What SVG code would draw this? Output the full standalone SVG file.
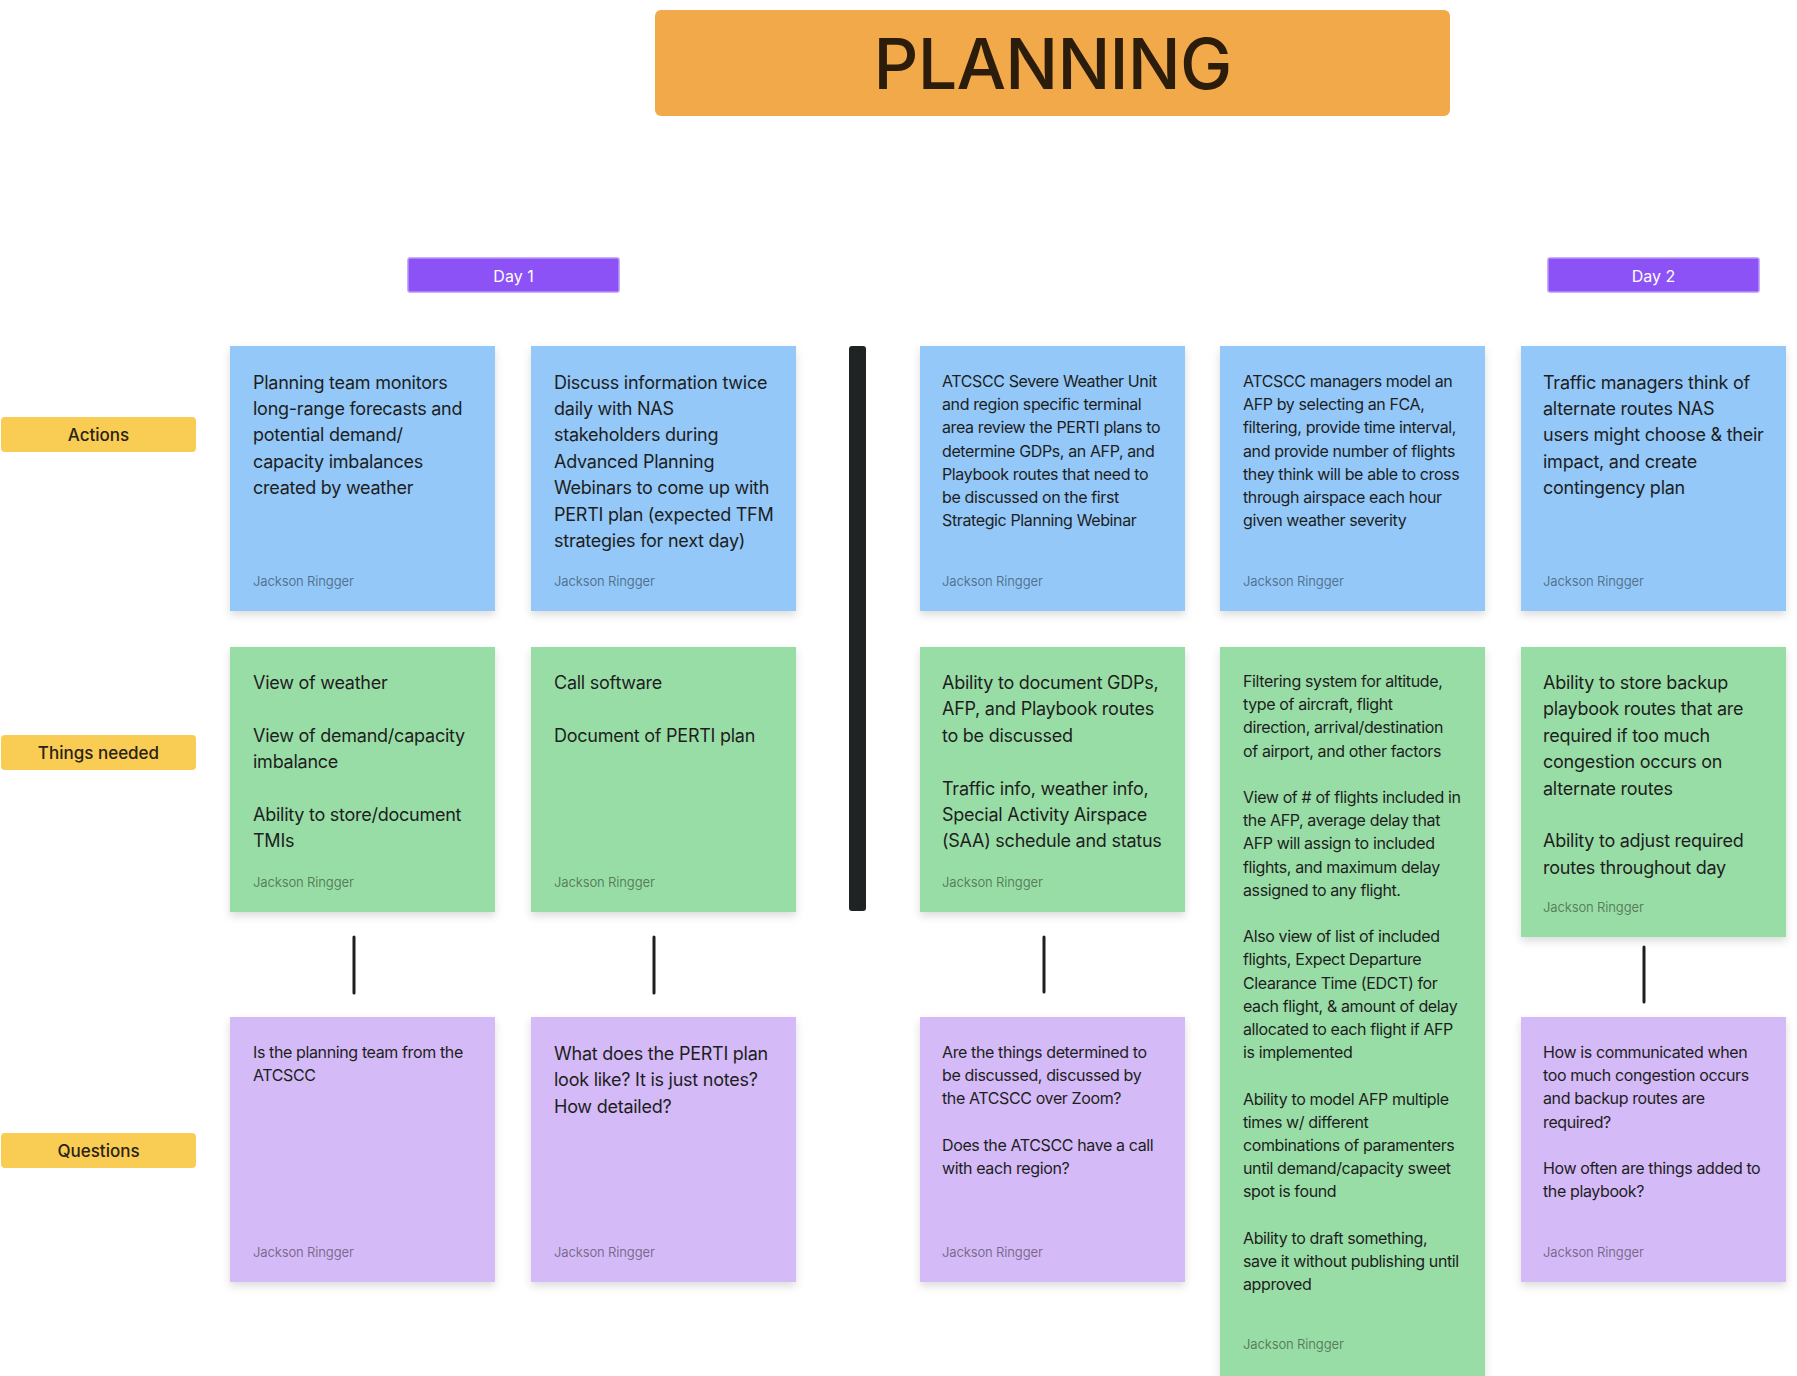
<svg xmlns="http://www.w3.org/2000/svg" width="1797" height="1376" viewBox="0 0 1797 1376">
<defs>
<filter id="sh" x="-10%" y="-10%" width="120%" height="125%">
<feDropShadow dx="0" dy="4" stdDeviation="4" flood-color="#000" flood-opacity="0.14"/>
</filter>
</defs>
<style>
text{font-family:Inter,"Noto Sans","Liberation Sans",sans-serif;}
.blue{fill:#93C8F8;}
.green{fill:#99DDA6;}
.purple{fill:#D4BAF6;}
.t18{font-size:18px;fill:#1E1E1E;letter-spacing:-0.25px;}
.t16{font-size:16px;fill:#1E1E1E;letter-spacing:-0.38px;}
.auth{font-size:13px;fill:#000;fill-opacity:0.45;letter-spacing:-0.15px;}
.lab{fill:#F9CC54;}
.labt{font-size:17px;font-weight:500;fill:#2A2216;text-anchor:middle;}
.day{fill:#8D52F5;stroke:#B894F8;stroke-width:1.5;}
.dayt{font-size:16px;fill:#fff;text-anchor:middle;}
.conn{stroke:#1E1E1E;stroke-width:3;stroke-linecap:round;fill:none;}
</style>
<rect width="1797" height="1376" fill="#fff"/>

<g id="title">
<rect x="655" y="10" width="795" height="106" rx="6" fill="#F2A94A"/>
<text x="1052.5" y="89" font-size="70" font-weight="500" fill="#2B1C0B" text-anchor="middle" letter-spacing="-0.8">PLANNING</text>
</g>

<g id="day1"><rect class="day" x="408" y="258" width="211" height="34" rx="2"/><text class="dayt" x="513.5" y="282">Day 1</text></g>
<g id="day2"><rect class="day" x="1548" y="258" width="211" height="34" rx="2"/><text class="dayt" x="1653.5" y="282">Day 2</text></g>

<g id="label-actions"><rect class="lab" x="1" y="417" width="195" height="35" rx="4"/><text class="labt" x="98.5" y="440.5">Actions</text></g>
<g id="label-things"><rect class="lab" x="1" y="735" width="195" height="35" rx="4"/><text class="labt" x="98.5" y="758.5">Things needed</text></g>
<g id="label-questions"><rect class="lab" x="1" y="1133" width="195" height="35" rx="4"/><text class="labt" x="98.5" y="1156.5">Questions</text></g>

<g id="divider"><rect x="849" y="346" width="17" height="565" rx="3" fill="#1F2323"/></g>

<g id="connectors">
<line class="conn" x1="354" y1="937" x2="354" y2="993"/>
<line class="conn" x1="654" y1="937" x2="654" y2="993"/>
<line class="conn" x1="1044" y1="937" x2="1044" y2="992"/>
<line class="conn" x1="1644" y1="947" x2="1644" y2="1002"/>
</g>

<!-- Row 1: Actions -->
<g id="a1">
<rect class="blue" x="230" y="346" width="265" height="265" filter="url(#sh)"/>
<text class="t18"><tspan x="253" y="388.5">Planning team monitors</tspan><tspan x="253" dy="26.4">long-range forecasts and</tspan><tspan x="253" dy="26.4">potential demand/</tspan><tspan x="253" dy="26.4">capacity imbalances</tspan><tspan x="253" dy="26.4">created by weather</tspan></text>
<text class="auth" x="253" y="586">Jackson Ringger</text>
</g>
<g id="a2">
<rect class="blue" x="531" y="346" width="265" height="265" filter="url(#sh)"/>
<text class="t18"><tspan x="554" y="388.5">Discuss information twice</tspan><tspan x="554" dy="26.4">daily with NAS</tspan><tspan x="554" dy="26.4">stakeholders during</tspan><tspan x="554" dy="26.4">Advanced Planning</tspan><tspan x="554" dy="26.4">Webinars to come up with</tspan><tspan x="554" dy="26.4">PERTI plan (expected TFM</tspan><tspan x="554" dy="26.4">strategies for next day)</tspan></text>
<text class="auth" x="554" y="586">Jackson Ringger</text>
</g>
<g id="a3">
<rect class="blue" x="920" y="346" width="265" height="265" filter="url(#sh)"/>
<text class="t16"><tspan x="942" y="387">ATCSCC Severe Weather Unit</tspan><tspan x="942" dy="23.2">and region specific terminal</tspan><tspan x="942" dy="23.2">area review the PERTI plans to</tspan><tspan x="942" dy="23.2">determine GDPs, an AFP, and</tspan><tspan x="942" dy="23.2">Playbook routes that need to</tspan><tspan x="942" dy="23.2">be discussed on the first</tspan><tspan x="942" dy="23.2">Strategic Planning Webinar</tspan></text>
<text class="auth" x="942" y="586">Jackson Ringger</text>
</g>
<g id="a4">
<rect class="blue" x="1220" y="346" width="265" height="265" filter="url(#sh)"/>
<text class="t16"><tspan x="1243" y="387">ATCSCC managers model an</tspan><tspan x="1243" dy="23.2">AFP by selecting an FCA,</tspan><tspan x="1243" dy="23.2">filtering, provide time interval,</tspan><tspan x="1243" dy="23.2">and provide number of flights</tspan><tspan x="1243" dy="23.2">they think will be able to cross</tspan><tspan x="1243" dy="23.2">through airspace each hour</tspan><tspan x="1243" dy="23.2">given weather severity</tspan></text>
<text class="auth" x="1243" y="586">Jackson Ringger</text>
</g>
<g id="a5">
<rect class="blue" x="1521" y="346" width="265" height="265" filter="url(#sh)"/>
<text class="t18"><tspan x="1543" y="388.5">Traffic managers think of</tspan><tspan x="1543" dy="26.4">alternate routes NAS</tspan><tspan x="1543" dy="26.4">users might choose &amp; their</tspan><tspan x="1543" dy="26.4">impact, and create</tspan><tspan x="1543" dy="26.4">contingency plan</tspan></text>
<text class="auth" x="1543" y="586">Jackson Ringger</text>
</g>

<!-- Row 2: Things needed -->
<g id="n1">
<rect class="green" x="230" y="647" width="265" height="265" filter="url(#sh)"/>
<text class="t18"><tspan x="253" y="689">View of weather</tspan><tspan x="253" dy="52.8">View of demand/capacity</tspan><tspan x="253" dy="26.4">imbalance</tspan><tspan x="253" dy="52.8">Ability to store/document</tspan><tspan x="253" dy="26.4">TMIs</tspan></text>
<text class="auth" x="253" y="887">Jackson Ringger</text>
</g>
<g id="n2">
<rect class="green" x="531" y="647" width="265" height="265" filter="url(#sh)"/>
<text class="t18"><tspan x="554" y="689">Call software</tspan><tspan x="554" dy="52.8">Document of PERTI plan</tspan></text>
<text class="auth" x="554" y="887">Jackson Ringger</text>
</g>
<g id="n3">
<rect class="green" x="920" y="647" width="265" height="265" filter="url(#sh)"/>
<text class="t18"><tspan x="942" y="689">Ability to document GDPs,</tspan><tspan x="942" dy="26.4">AFP, and Playbook routes</tspan><tspan x="942" dy="26.4">to be discussed</tspan><tspan x="942" dy="52.8">Traffic info, weather info,</tspan><tspan x="942" dy="26.4">Special Activity Airspace</tspan><tspan x="942" dy="26.4">(SAA) schedule and status</tspan></text>
<text class="auth" x="942" y="887">Jackson Ringger</text>
</g>
<g id="n4">
<rect class="green" x="1220" y="647" width="265" height="729" filter="url(#sh)"/>
<text class="t16"><tspan x="1243" y="687">Filtering system for altitude,</tspan><tspan x="1243" dy="23.2">type of aircraft, flight</tspan><tspan x="1243" dy="23.2">direction, arrival/destination</tspan><tspan x="1243" dy="23.2">of airport, and other factors</tspan><tspan x="1243" dy="46.4">View of # of flights included in</tspan><tspan x="1243" dy="23.2">the AFP, average delay that</tspan><tspan x="1243" dy="23.2">AFP will assign to included</tspan><tspan x="1243" dy="23.2">flights, and maximum delay</tspan><tspan x="1243" dy="23.2">assigned to any flight.</tspan><tspan x="1243" dy="46.4">Also view of list of included</tspan><tspan x="1243" dy="23.2">flights, Expect Departure</tspan><tspan x="1243" dy="23.2">Clearance Time (EDCT) for</tspan><tspan x="1243" dy="23.2">each flight, &amp; amount of delay</tspan><tspan x="1243" dy="23.2">allocated to each flight if AFP</tspan><tspan x="1243" dy="23.2">is implemented</tspan><tspan x="1243" dy="46.4">Ability to model AFP multiple</tspan><tspan x="1243" dy="23.2">times w/ different</tspan><tspan x="1243" dy="23.2">combinations of paramenters</tspan><tspan x="1243" dy="23.2">until demand/capacity sweet</tspan><tspan x="1243" dy="23.2">spot is found</tspan><tspan x="1243" dy="46.4">Ability to draft something,</tspan><tspan x="1243" dy="23.2">save it without publishing until</tspan><tspan x="1243" dy="23.2">approved</tspan></text>
<text class="auth" x="1243" y="1349">Jackson Ringger</text>
</g>
<g id="n5">
<rect class="green" x="1521" y="647" width="265" height="290" filter="url(#sh)"/>
<text class="t18"><tspan x="1543" y="689">Ability to store backup</tspan><tspan x="1543" dy="26.4">playbook routes that are</tspan><tspan x="1543" dy="26.4">required if too much</tspan><tspan x="1543" dy="26.4">congestion occurs on</tspan><tspan x="1543" dy="26.4">alternate routes</tspan><tspan x="1543" dy="52.8">Ability to adjust required</tspan><tspan x="1543" dy="26.4">routes throughout day</tspan></text>
<text class="auth" x="1543" y="912">Jackson Ringger</text>
</g>

<!-- Row 3: Questions -->
<g id="q1">
<rect class="purple" x="230" y="1017" width="265" height="265" filter="url(#sh)"/>
<text class="t16"><tspan x="253" y="1058">Is the planning team from the</tspan><tspan x="253" dy="23.2">ATCSCC</tspan></text>
<text class="auth" x="253" y="1257">Jackson Ringger</text>
</g>
<g id="q2">
<rect class="purple" x="531" y="1017" width="265" height="265" filter="url(#sh)"/>
<text class="t18"><tspan x="554" y="1060">What does the PERTI plan</tspan><tspan x="554" dy="26.4">look like? It is just notes?</tspan><tspan x="554" dy="26.4">How detailed?</tspan></text>
<text class="auth" x="554" y="1257">Jackson Ringger</text>
</g>
<g id="q3">
<rect class="purple" x="920" y="1017" width="265" height="265" filter="url(#sh)"/>
<text class="t16"><tspan x="942" y="1058">Are the things determined to</tspan><tspan x="942" dy="23.2">be discussed, discussed by</tspan><tspan x="942" dy="23.2">the ATCSCC over Zoom?</tspan><tspan x="942" dy="46.4">Does the ATCSCC have a call</tspan><tspan x="942" dy="23.2">with each region?</tspan></text>
<text class="auth" x="942" y="1257">Jackson Ringger</text>
</g>
<g id="q5">
<rect class="purple" x="1521" y="1017" width="265" height="265" filter="url(#sh)"/>
<text class="t16"><tspan x="1543" y="1058">How is communicated when</tspan><tspan x="1543" dy="23.2">too much congestion occurs</tspan><tspan x="1543" dy="23.2">and backup routes are</tspan><tspan x="1543" dy="23.2">required?</tspan><tspan x="1543" dy="46.4">How often are things added to</tspan><tspan x="1543" dy="23.2">the playbook?</tspan></text>
<text class="auth" x="1543" y="1257">Jackson Ringger</text>
</g>
</svg>
